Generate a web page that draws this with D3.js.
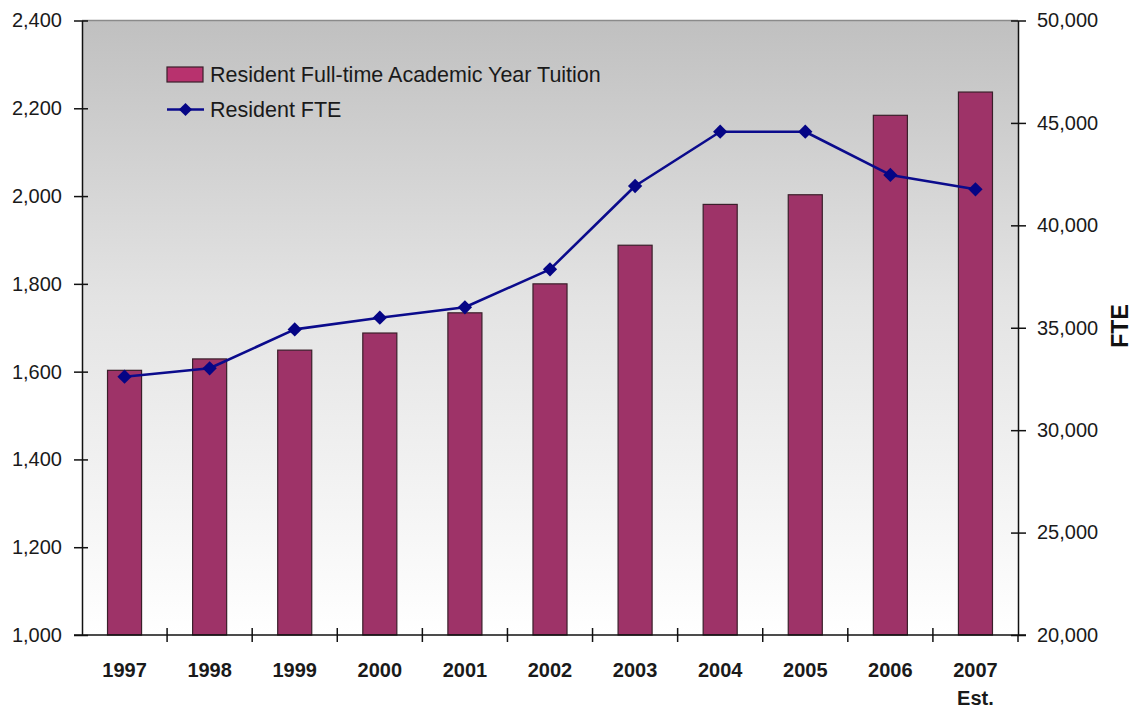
<!DOCTYPE html>
<html>
<head>
<meta charset="utf-8">
<script src="https://cdn.jsdelivr.net/npm/d3@7"></script>
<style>
  html, body { margin: 0; padding: 0; background: #ffffff; }
  svg { display: block; font-family: "Liberation Sans", Arial, sans-serif; }
</style>
</head>
<body>
<svg id="chart" width="1132" height="709"></svg>
<script>
// Academic years shown on the category axis
const years = ["1997", "1998", "1999", "2000", "2001", "2002", "2003", "2004", "2005", "2006", "2007"];
const yearNotes = ["", "", "", "", "", "", "", "", "", "", "Est."];

// Resident full-time academic year tuition (left axis, dollars)
const tuition = [1603, 1629, 1649, 1688, 1734, 1800, 1888, 1981, 2003, 2184, 2237];

// Resident FTE enrollment (right axis)
const fte = [32610, 33020, 34920, 35490, 36000, 37850, 41920, 44570, 44570, 42460, 41760];

// Axis tick values
const tuitionTicks = [1000, 1200, 1400, 1600, 1800, 2000, 2200, 2400];
const fteTicks = [20000, 25000, 30000, 35000, 40000, 45000, 50000];

const seriesNames = ["Resident Full-time Academic Year Tuition", "Resident FTE"];

const svg = d3.select("#chart");
const plot = { left: 82, right: 1018, top: 20.5, bottom: 635 };

const x = d3.scaleBand().domain(years).range([plot.left, plot.right])
  .paddingInner(0.6).paddingOuter(0.3);
const xCell = d3.scaleBand().domain(years).range([plot.left, plot.right]).padding(0);
const yL = d3.scaleLinear().domain([1000, 2400]).range([plot.bottom, plot.top]);
const yR = d3.scaleLinear().domain([20000, 50000]).range([plot.bottom, plot.top]);

// Plot-area background: grey at the top fading to white
const defs = svg.append("defs");
const grad = defs.append("linearGradient").attr("id", "plotBg")
  .attr("x1", 0).attr("y1", 0).attr("x2", 0).attr("y2", 1);
grad.append("stop").attr("offset", "0%").attr("stop-color", "#c0c0c0");
grad.append("stop").attr("offset", "45%").attr("stop-color", "#e3e3e3");
grad.append("stop").attr("offset", "100%").attr("stop-color", "#ffffff");

svg.append("rect")
  .attr("x", plot.left).attr("y", plot.top)
  .attr("width", plot.right - plot.left).attr("height", plot.bottom - plot.top)
  .attr("fill", "url(#plotBg)");

// Top border of the plot area
svg.append("line")
  .attr("x1", plot.left).attr("x2", plot.right)
  .attr("y1", plot.top).attr("y2", plot.top)
  .attr("stroke", "#8a8a8a").attr("stroke-width", 1.5);

// Tuition bars
svg.append("g").selectAll("rect").data(years).join("rect")
  .attr("x", d => x(d))
  .attr("y", (d, i) => yL(tuition[i]))
  .attr("width", x.bandwidth())
  .attr("height", (d, i) => yL(1000) - yL(tuition[i]))
  .attr("fill", "#9e3368")
  .attr("stroke", "#3a1f2a")
  .attr("stroke-width", 1.2);

// FTE line with diamond markers
const cx = d => x(d) + x.bandwidth() / 2;
const line = d3.line()
  .x((d, i) => cx(years[i]))
  .y(d => yR(d));

svg.append("path").datum(fte)
  .attr("d", line)
  .attr("fill", "none")
  .attr("stroke", "#0b0b8c")
  .attr("stroke-width", 2.6)
  .attr("stroke-linejoin", "round");

const diamond = d3.symbol().type(d3.symbolDiamond2).size(130);
svg.append("g").selectAll("path").data(fte).join("path")
  .attr("transform", (d, i) => `translate(${cx(years[i])},${yR(d)})`)
  .attr("d", diamond)
  .attr("fill", "#050585");

// Left axis
const leftAxis = svg.append("g")
  .attr("transform", `translate(${plot.left},0)`)
  .call(d3.axisLeft(yL).tickValues(tuitionTicks).tickFormat(d3.format(",")).tickSizeOuter(0));
leftAxis.select(".domain").attr("stroke", "#111").attr("stroke-width", 1.5);
leftAxis.selectAll(".tick line").attr("x1", -8).attr("x2", 6).attr("stroke", "#111").attr("stroke-width", 1.5);
leftAxis.selectAll(".tick text")
  .attr("x", -20)
  .attr("font-size", 20).attr("fill", "#1a1a1a")
  .attr("font-family", "'Liberation Sans', Arial, sans-serif");

// Right axis
const rightAxis = svg.append("g")
  .attr("transform", `translate(${plot.right},0)`)
  .call(d3.axisRight(yR).tickValues(fteTicks).tickFormat(d3.format(",")).tickSizeOuter(0));
rightAxis.select(".domain").attr("stroke", "#111").attr("stroke-width", 1.5);
rightAxis.selectAll(".tick line").attr("x1", -7).attr("x2", 8).attr("stroke", "#111").attr("stroke-width", 1.5);
rightAxis.selectAll(".tick text")
  .attr("x", 19)
  .attr("font-size", 20).attr("fill", "#1a1a1a")
  .attr("font-family", "'Liberation Sans', Arial, sans-serif");

// Bottom axis: ticks fall on category boundaries, labels centred under bars
const bottom = svg.append("g");
bottom.append("line")
  .attr("x1", plot.left - 8).attr("x2", plot.right + 8)
  .attr("y1", plot.bottom).attr("y2", plot.bottom)
  .attr("stroke", "#111").attr("stroke-width", 1.5);
const boundaries = years.map(d => xCell(d)).concat([xCell.range()[1]]);
bottom.selectAll("line.tk").data(boundaries.slice(1, -1)).join("line")
  .attr("class", "tk")
  .attr("x1", d => d).attr("x2", d => d)
  .attr("y1", plot.bottom - 7).attr("y2", plot.bottom + 7)
  .attr("stroke", "#111").attr("stroke-width", 1.5);
bottom.append("line")
  .attr("x1", plot.right).attr("x2", plot.right)
  .attr("y1", plot.bottom).attr("y2", plot.bottom + 7)
  .attr("stroke", "#111").attr("stroke-width", 1.5);

bottom.selectAll("text.yr").data(years).join("text")
  .attr("class", "yr")
  .attr("x", d => cx(d))
  .attr("y", 677)
  .attr("text-anchor", "middle")
  .attr("font-size", 20).attr("font-weight", "bold").attr("fill", "#1a1a1a")
  .text(d => d);
bottom.selectAll("text.note").data(years.filter((d, i) => yearNotes[i])).join("text")
  .attr("class", "note")
  .attr("x", d => cx(d))
  .attr("y", 705)
  .attr("text-anchor", "middle")
  .attr("font-size", 20).attr("font-weight", "bold").attr("fill", "#1a1a1a")
  .text(d => yearNotes[years.indexOf(d)]);

// Right axis title
svg.append("text")
  .attr("transform", "translate(1128,326) rotate(-90)")
  .attr("text-anchor", "middle")
  .attr("font-size", 23).attr("font-weight", "bold").attr("fill", "#111")
  .text("FTE");

// Legend
const legend = svg.append("g");
legend.append("rect")
  .attr("x", 167).attr("y", 67).attr("width", 36).attr("height", 15)
  .attr("fill", "#b8326e").attr("stroke", "#3a1f2a").attr("stroke-width", 1.2);
legend.append("text")
  .attr("x", 210).attr("y", 81.5)
  .attr("font-size", 21.5).attr("fill", "#1a1a1a")
  .text(seriesNames[0]);
legend.append("line")
  .attr("x1", 167).attr("x2", 204).attr("y1", 109.5).attr("y2", 109.5)
  .attr("stroke", "#0b0b8c").attr("stroke-width", 2.4);
legend.append("path")
  .attr("transform", "translate(185.5,109.5)")
  .attr("d", d3.symbol().type(d3.symbolDiamond2).size(110))
  .attr("fill", "#050585");
legend.append("text")
  .attr("x", 210).attr("y", 117)
  .attr("font-size", 21.5).attr("fill", "#1a1a1a")
  .text(seriesNames[1]);
</script>
</body>
</html>
